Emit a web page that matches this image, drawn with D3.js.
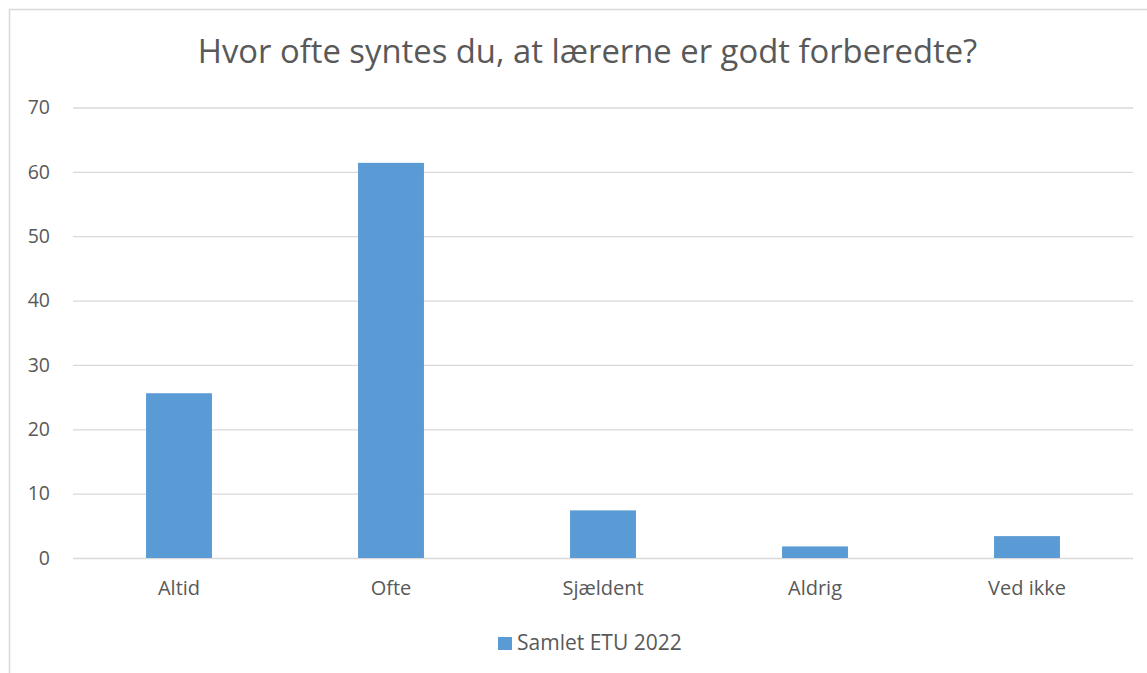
<!DOCTYPE html>
<html>
<head>
<meta charset="utf-8">
<script src="https://cdnjs.cloudflare.com/ajax/libs/d3/7.8.5/d3.min.js"></script>
<style>
  body { margin: 0; background: #fff; }
  svg { display: block; font-family: "Open Sans", "Noto Sans", sans-serif; }
</style>
</head>
<body>
<svg id="chart"></svg>
<script>
var categories = ["Altid", "Ofte", "Sjældent", "Aldrig", "Ved ikke"];
var values = [25.6, 61.4, 7.4, 1.8, 3.4];
var yTicks = [0, 10, 20, 30, 40, 50, 60, 70];
var seriesName = "Samlet ETU 2022";
var titleText = "Hvor ofte syntes du, at lærerne er godt forberedte?";

var FONT = '"Open Sans", "Noto Sans", sans-serif';
var W = 1147, H = 673;
var margin = { top: 107.5, right: 14, bottom: 115, left: 73 },
	width = W - margin.left - margin.right,
	height = H - margin.top - margin.bottom;

var svg = d3.select('#chart')
	.attr('width', W)
	.attr('height', H);

// outer chart border (cropped on right and bottom)
svg.append('rect')
	.attr('x', 9.5).attr('y', 9.5)
	.attr('width', W + 20).attr('height', H + 20)
	.attr('fill', 'none')
	.attr('stroke', '#d9d9d9')
	.attr('stroke-width', 1.5);

var g = svg.append('g')
	.attr('transform', 'translate(' + margin.left + ',' + margin.top + ')');

var x = d3.scaleBand()
	.domain(categories)
	.range([0, width])
	.paddingInner(0.689)
	.paddingOuter(0.3445);

var y = d3.scaleLinear()
	.domain([0, 70])
	.range([height, 0]);

/* gridlines */
g.append('g')
	.attr('class', 'grid')
	.call(d3.axisLeft(y).tickValues(yTicks).tickSize(-width).tickFormat(''))
	.call(function(s) {
		s.select('.domain').remove();
		s.selectAll('line').attr('stroke', '#d9d9d9').attr('stroke-width', 1.3);
	});

/* y axis labels */
g.append('g')
	.attr('class', 'y_axis')
	.call(d3.axisLeft(y).tickValues(yTicks).tickSize(0).tickPadding(23))
	.attr('font-family', FONT)
	.attr('font-size', 19.5)
	.call(function(s) {
		s.select('.domain').remove();
		s.selectAll('text').attr('fill', '#595959');
	});

/* bars */
g.selectAll('.bar')
	.data(values)
	.enter().append('rect')
	.attr('class', 'bar')
	.attr('x', function(d, i) { return x(categories[i]); })
	.attr('y', function(d) { return y(d); })
	.attr('width', x.bandwidth())
	.attr('height', function(d) { return height - y(d); })
	.attr('fill', '#5b9bd5');

/* x axis */
g.append('g')
	.attr('class', 'x_axis')
	.attr('transform', 'translate(0,' + height + ')')
	.call(d3.axisBottom(x).tickSize(0).tickPadding(23))
	.attr('font-family', FONT)
	.attr('font-size', 20)
	.call(function(s) {
		s.select('.domain').remove();
		s.selectAll('text').attr('fill', '#595959');
	});

/* title */
svg.append('text')
	.attr('x', 587.5)
	.attr('y', 63.3)
	.attr('text-anchor', 'middle')
	.attr('fill', '#595959')
	.style('font-size', '32.8px')
	.text(titleText);

/* legend */
var legend = svg.append('g')
	.attr('transform', 'translate(498,637)');
legend.append('rect')
	.attr('width', 14).attr('height', 13)
	.attr('fill', '#5b9bd5');
legend.append('text')
	.attr('x', 19).attr('y', 12.5)
	.attr('fill', '#595959')
	.style('font-size', '21px')
	.text(seriesName);
</script>
</body>
</html>
